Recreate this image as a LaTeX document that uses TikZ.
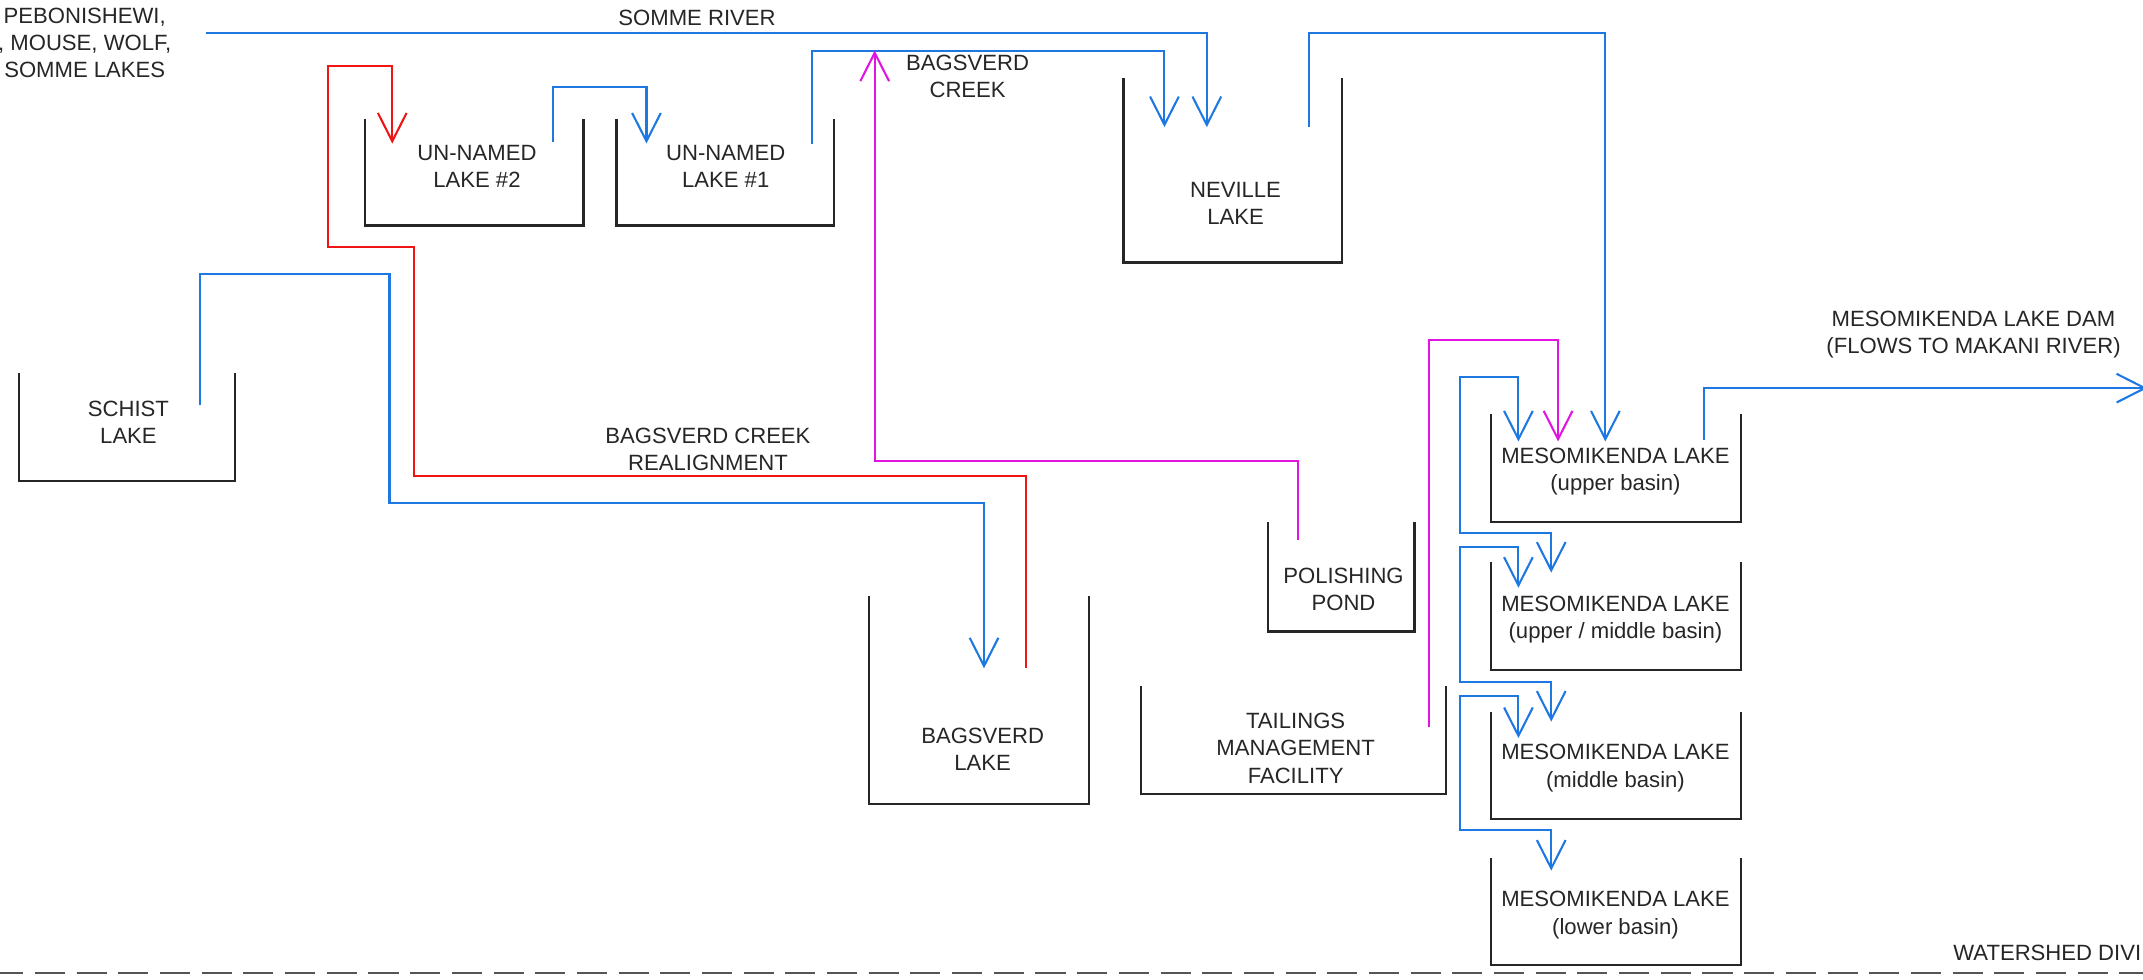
\documentclass[tikz,border=0pt]{standalone}
\usepackage{fontspec}
\setmainfont{Liberation Sans}
\usetikzlibrary{arrows.meta}
\definecolor{rblue}{RGB}{30,120,225}
\definecolor{rred}{RGB}{240,20,20}
\definecolor{rmag}{RGB}{225,20,225}
\definecolor{rgray}{RGB}{85,85,85}
\newcommand{\LakeU}[5]{%
  \node[lake, minimum width={(#4-#2)*0.03cm}, minimum height={(#5-#3)*0.03cm}] (#1) at ({(#2+#4)/2},{(#3+#5)/2}) {};
  \draw[wall] (#1.north west) |- (#1.south east) -- (#1.north east);
}
\begin{document}
\begin{tikzpicture}[x=0.03cm, y=-0.03cm,
  txt/.style={font=\fontsize{13.8}{17}\selectfont, align=center, inner sep=0pt, text=black!85},
  lake/.style={inner sep=0pt, outer sep=0pt, draw=none},
  wall/.style={draw=black!85, line width=1.4pt},
  flowline/.style={line width=1.3pt},
  tip/.style={-{Straight Barb[length=0.62cm, width=0.63cm]}},
  tips/.style={{Straight Barb[length=0.62cm, width=0.63cm]}-{Straight Barb[length=0.62cm, width=0.63cm]}},
  bluel/.style={flowline, draw=rblue},
  redl/.style={flowline, draw=rred},
  magl/.style={flowline, draw=rmag},
  divide/.style={draw=rgray, line width=1.2pt, dash pattern=on 0.66cm off 0.255cm, dash phase=0.147cm}
]
\useasboundingbox[fill=white] (0,0) rectangle (1568,717);

% ---- lakes (open-top basins) ----
\LakeU{un2}{267}{87}{427}{165}
\LakeU{un1}{451}{87}{610}{165}
\LakeU{nev}{822}{57}{982}{192}
\LakeU{sch}{14}{273}{172}{352}
\LakeU{bag}{636}{436}{797}{588}
\LakeU{pol}{928}{382}{1035}{462}
\LakeU{tmf}{835}{502}{1058}{581}
\LakeU{mk1}{1091}{303}{1274}{382}
\LakeU{mk2}{1091}{411}{1274}{490}
\LakeU{mk3}{1091}{521}{1274}{599}
\LakeU{mk4}{1091}{628}{1274}{706}

% ---- labels ----
\node[txt] (src) at (62,31.5) {PEBONISHEWI,\\, MOUSE, WOLF,\\SOMME LAKES};
\node[txt] (somme) at (510,13) {SOMME RIVER};
\node[txt] (un2t) at (349,121.5) {UN-NAMED\\LAKE \#2};
\node[txt] (un1t) at (531,121.5) {UN-NAMED\\LAKE \#1};
\node[txt] (creek) at (708,56) {BAGSVERD\\CREEK};
\node[txt] (nevt) at (904,149) {NEVILLE\\LAKE};
\node[txt] (scht) at (94,309) {SCHIST\\LAKE};
\node[txt] (realign) at (518,329) {BAGSVERD CREEK\\REALIGNMENT};
\node[txt] (bagt) at (719,548.5) {BAGSVERD\\LAKE};
\node[txt] (polt) at (983,431) {POLISHING\\POND};
\node[txt] (tmft) at (948,547.5) {TAILINGS\\MANAGEMENT\\FACILITY};
\node[txt] (mk1t) at (1182,345) {MESOMIKENDA LAKE\\(upper basin)};
\node[txt] (mk2t) at (1182,453.5) {MESOMIKENDA LAKE\\(upper / middle basin)};
\node[txt] (mk3t) at (1182,562) {MESOMIKENDA LAKE\\(middle basin)};
\node[txt] (mk4t) at (1182,669.5) {MESOMIKENDA LAKE\\(lower basin)};
\node[txt] (dam) at (1444,245) {MESOMIKENDA LAKE DAM\\(FLOWS TO MAKANI RIVER)};
\node[txt, anchor=west] (wsd) at (1429,697) {WATERSHED DIVI};

% ---- connector end points ----
\coordinate (somS) at (151,24);
\coordinate (somE) at (883,93);
\coordinate (crkS) at (594,105);
\coordinate (crkE) at (852,93);
\coordinate (u2out) at (404.5,104);
\coordinate (u1in) at (473,105);
\coordinate (redS) at (751,489);
\coordinate (redE) at (287,105);
\coordinate (polout) at (949.6,395);
\coordinate (crkin) at (640,37);
\coordinate (tmfout) at (1045.6,532);
\coordinate (mk1inM) at (1140,323);
\coordinate (nevout) at (958,93);
\coordinate (mk1inN) at (1174.6,323);
\coordinate (schout) at (146,296);
\coordinate (bagin) at (720,489);
\coordinate (mk1out) at (1247,322);
\coordinate (damE) at (1571,284);
\coordinate (fa1) at (1111,323);
\coordinate (fa2) at (1135,419);
\coordinate (fb1) at (1111,430);
\coordinate (fb2) at (1135,528);
\coordinate (fc1) at (1111,540);
\coordinate (fc2) at (1135,637);

% ---- flows ----
\draw[bluel, tip] (somS) -| (somE);
\draw[bluel, tip] (crkS) |- (852,37) -- (crkE);
\draw[bluel, tip] (u2out) |- (473,63.5) -- (u1in);
\draw[redl, tip] (redS) |- (303,348) |- (240,181) |- (287,48) -- (redE);
\draw[magl, tip] (polout) |- (640,337) -- (crkin);
\draw[magl, tip] (tmfout) |- (1140,249) -- (mk1inM);
\draw[bluel, tip] (nevout) |- (1174.6,24) -- (mk1inN);
\draw[bluel, tip] (schout) |- (285,200.6) |- (720,368) -- (bagin);
\draw[bluel, tip] (mk1out) |- (damE);
\draw[bluel, tips] (fa1) |- (1068,276) |- (1135,390) -- (fa2);
\draw[bluel, tips] (fb1) |- (1068,400) |- (1135,499) -- (fb2);
\draw[bluel, tips] (fc1) |- (1068,509) |- (1135,607) -- (fc2);

% ---- watershed divide ----
\draw[divide] (0,712) -- (1568,712);
\end{tikzpicture}
\end{document}
